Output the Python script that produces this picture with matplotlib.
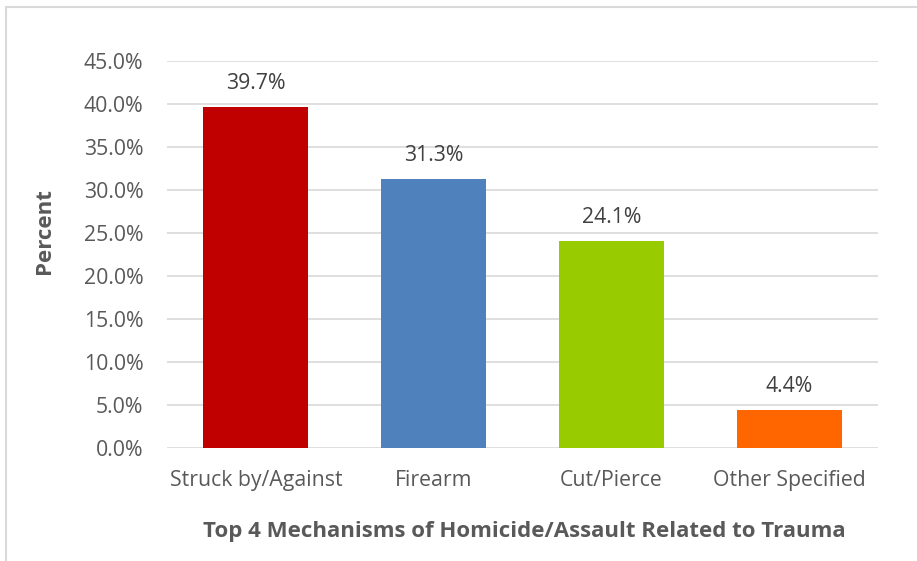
import matplotlib
matplotlib.use("Agg")
import matplotlib.pyplot as plt
from matplotlib.patches import Rectangle

categories = ["Struck by/Against", "Firearm", "Cut/Pierce", "Other Specified"]
values = [39.7, 31.3, 24.1, 4.4]
colors = ["#C00000", "#4F81BD", "#99CC00", "#FF6600"]
yticks = [0, 5, 10, 15, 20, 25, 30, 35, 40, 45]

plt.rcParams['font.family'] = ['Open Sans', 'DejaVu Sans']
W, H = 917, 561
fig = plt.figure(figsize=(W/100, H/100), dpi=100)
fig.patches.append(Rectangle((6/W, -0.1), 1.2, 1 - 7/H + 0.1, transform=fig.transFigure,
                             fill=False, edgecolor="#D9D9D9", linewidth=1.5))
ax = fig.add_axes([167/W, 1 - 448/H, (878-167)/W, (448-61)/H])
x = list(range(len(categories)))
ax.bar(x, values, width=0.59, color=colors, zorder=3)
ax.set_xlim(-0.5, 3.5)
ax.set_ylim(0, 45)
ax.set_yticks(yticks)
ax.set_yticklabels([f"{v:.1f}%" for v in yticks])
ax.set_xticks(x)
ax.set_xticklabels(categories)
ax.tick_params(length=0, labelsize=15.3, colors="#595959")
ax.tick_params(axis='y', pad=17)
ax.tick_params(axis='x', pad=16)
ax.grid(axis='y', color="#D9D9D9", linewidth=1.2, zorder=0)
for s in ax.spines.values():
    s.set_visible(False)
for xi, v in zip(x, values):
    ax.text(xi, v + 1.5, f"{v:.1f}%", ha='center', va='bottom', fontsize=15.3, color="#404040")
fig.text(45/W, 1 - 231/H, "Percent", rotation=90, ha='center', va='center',
         fontsize=16, fontweight='bold', color="#595959")
fig.text(524/W, 1 - 532/H, "Top 4 Mechanisms of Homicide/Assault Related to Trauma",
         ha='center', va='center', fontsize=16, fontweight='bold', color="#595959")
fig.savefig("out.png", dpi=100)
